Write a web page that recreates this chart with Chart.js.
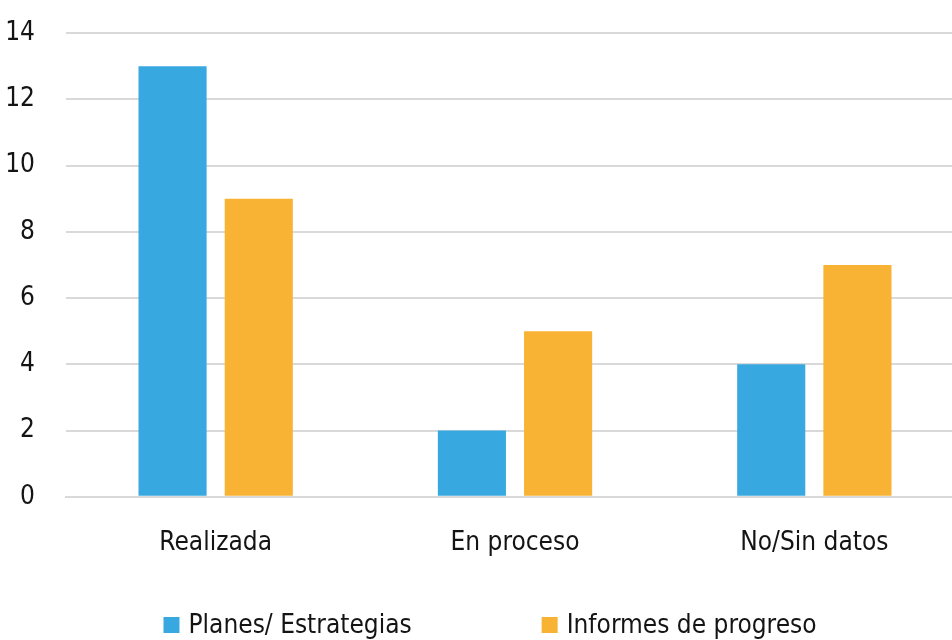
<!DOCTYPE html>
<html>
<head>
<meta charset="utf-8">
<script src="https://cdn.jsdelivr.net/npm/chart.js@4"></script>
<style>
  html, body { margin: 0; padding: 0; background: #fff; overflow: hidden; }
  #wrap { width: 964px; height: 640px; }
</style>
</head>
<body>
<div id="wrap"><canvas id="estadoChart"></canvas></div>
<script>
const categories = ["Realizada", "En proceso", "No/Sin datos"];
const planes = [13, 2, 4];
const informes = [9, 5, 7];
const seriesNames = ["Planes/ Estrategias", "Informes de progreso"];
const yTicks = [0, 2, 4, 6, 8, 10, 12, 14];

const FONT = "'Liberation Sans Narrow', 'DejaVu Sans Condensed', sans-serif";
const TEXT = "#141414";

// legend drawn below the axis, spaced like the original
const bottomLegend = {
  id: "bottomLegend",
  afterDraw(chart) {
    const ctx = chart.ctx;
    const box = 16;
    const gap = 9;
    const spacing = 130;
    ctx.save();
    ctx.font = "26px " + FONT;
    ctx.textBaseline = "middle";
    const items = chart.data.datasets.map(ds => ({
      label: ds.label,
      color: ds.backgroundColor,
      w: box + gap + ctx.measureText(ds.label).width
    }));
    const total = items.reduce((s, it) => s + it.w, 0) + spacing * (items.length - 1);
    let x = (chart.width - total) / 2 + 8;
    const y = 625;
    items.forEach(it => {
      ctx.fillStyle = it.color;
      ctx.fillRect(x, y - box / 2, box, box);
      ctx.fillStyle = TEXT;
      ctx.fillText(it.label, x + box + gap, y + 1);
      x += it.w + spacing;
    });
    ctx.restore();
  }
};

new Chart(document.getElementById("estadoChart"), {
  type: "bar",
  data: {
    labels: categories,
    datasets: [
      { label: seriesNames[0], data: planes, backgroundColor: "#38A9E0" },
      { label: seriesNames[1], data: informes, backgroundColor: "#F8B234" }
    ]
  },
  options: {
    responsive: true,
    maintainAspectRatio: false,
    animation: false,
    layout: { padding: { top: 33, left: 4, right: 0, bottom: 50 } },
    datasets: {
      bar: { categoryPercentage: 0.576, barPercentage: 0.79 }
    },
    plugins: {
      legend: { display: false },
      tooltip: { enabled: false }
    },
    scales: {
      x: {
        z: 1,
        grid: { display: false, drawTicks: false },
        border: { display: true, color: "#D9D9D9", width: 2 },
        ticks: { color: TEXT, font: { family: FONT, size: 26 }, padding: 31 },
        afterFit: axis => { axis.paddingLeft = 0; axis.paddingRight = 0; }
      },
      y: {
        min: 0,
        max: 14,
        afterBuildTicks: axis => { axis.ticks = yTicks.map(v => ({ value: v })); },
        grid: { color: "#D9D9D9", lineWidth: 2, drawTicks: false },
        border: { display: false },
        ticks: { color: TEXT, font: { family: FONT, size: 26 }, padding: 31 },
        afterFit: axis => { axis.width = 62; axis.paddingTop = 0; axis.paddingBottom = 0; }
      }
    }
  },
  plugins: [bottomLegend]
});
</script>
</body>
</html>
